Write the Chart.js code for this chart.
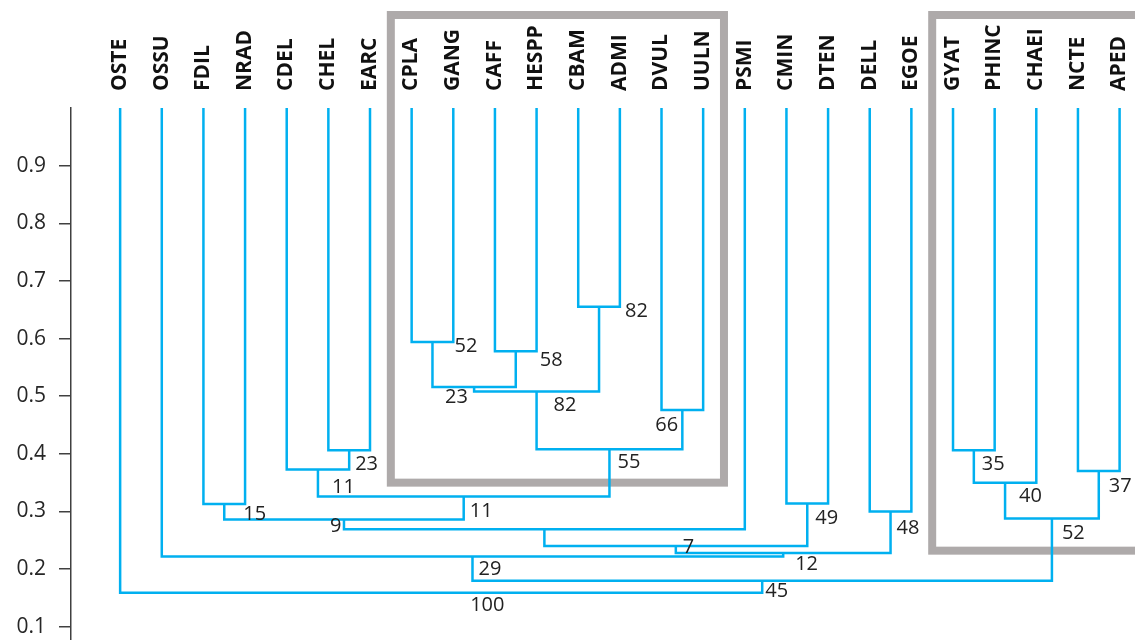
<!DOCTYPE html>
<html>
<head>
<meta charset="utf-8">
<script src="https://cdn.jsdelivr.net/npm/chart.js@4.4.0/dist/chart.umd.min.js"></script>
<style>
  html, body { margin: 0; padding: 0; background: #fff; }
</style>
</head>
<body>
<canvas id="myCanvas" width="1135" height="640"></canvas>
<script>
// leaves, left to right
var leaves = ['OSTE', 'OSSU', 'FDIL', 'NRAD', 'CDEL', 'CHEL', 'EARC', 'CPLA', 'GANG', 'CAFF',
  'HESPP', 'CBAM', 'ADMI', 'DVUL', 'UULN', 'PSMI', 'CMIN', 'DTEN', 'DELL', 'EGOE',
  'GYAT', 'PHINC', 'CHAEI', 'NCTE', 'APED'];

// merge steps, '#n' = result of merge n
var mergeLeft = ['CPLA', 'CAFF', 'CBAM', 'DVUL', '#0', '#4', '#5', 'CHEL', 'CDEL', '#8',
  'FDIL', '#10', '#11', 'CMIN', '#12', 'DELL', '#14', 'OSSU', 'GYAT', '#18',
  'NCTE', '#19', '#17', 'OSTE'];
var mergeRight = ['GANG', 'HESPP', 'ADMI', 'UULN', '#1', '#2', '#3', 'EARC', '#7', '#6',
  'NRAD', '#9', 'PSMI', 'DTEN', '#13', 'EGOE', '#15', '#16', 'PHINC', 'CHAEI',
  'APED', '#20', '#21', '#22'];
var mergeHeight = [0.594, 0.578, 0.655, 0.476, 0.516, 0.508, 0.408, 0.406, 0.373, 0.326,
  0.313, 0.286, 0.269, 0.314, 0.240, 0.300, 0.228, 0.222, 0.406, 0.350,
  0.370, 0.288, 0.180, 0.159];
var support = [52, 58, 82, 66, 23, 82, 55, 23, 11, 11,
  15, 9, null, 49, 7, 48, 12, 29, 35, 40,
  37, 52, 45, 100];
var leafHeight = 1.0;
var yTicks = [0.1, 0.2, 0.3, 0.4, 0.5, 0.6, 0.7, 0.8, 0.9];

// boxed groups
var groupFrom = ['CPLA', 'GYAT'];
var groupTo = ['UULN', 'APED'];
var groupFloor = [0.35, 0.232];

// where each support value sits, px from the stem / bar
var labelOffset = [[22, 4], [24, 9], [26, 4], [-27, 15], [-29, 10], [17, 14], [8, 13], [6, 14], [14, 18], [6, 15],
  [19, 10], [-14, 7], [0, 0], [8, 15], [7, 1], [6, 17], [12, 11], [6, 13], [8, 14], [14, 14],
  [10, 15], [10, 15], [3, 11], [29, 13]];

var lineColor = '#00B0F0';

function nodeOf(ref, nodes) {
  if (ref.charAt(0) === '#') return nodes[parseInt(ref.substring(1))];
  return { x: leaves.indexOf(ref), h: leafHeight };
}

var nodes = [];
var datasets = [];
for (var i = 0; i < mergeHeight.length; i++) {
  var a = nodeOf(mergeLeft[i], nodes);
  var b = nodeOf(mergeRight[i], nodes);
  var h = mergeHeight[i];
  nodes.push({ x: (a.x + b.x) / 2, h: h });
  datasets.push({
    data: [
      { x: a.x, y: a.h }, { x: a.x, y: h },
      { x: b.x, y: h }, { x: b.x, y: b.h }
    ],
    borderColor: lineColor,
    borderWidth: 2.5,
    pointRadius: 0,
    showLine: true,
    fill: false,
    tension: 0,
    clip: false
  });
}

var boxPlugin = {
  id: 'groupBoxes',
  beforeDatasetsDraw: function(chart) {
    var c = chart.ctx;
    var xs = chart.scales.x, ys = chart.scales.y;
    c.save();
    c.strokeStyle = '#AEAAAA';
    c.lineWidth = 8;
    for (var g = 0; g < groupFrom.length; g++) {
      var x1 = xs.getPixelForValue(leaves.indexOf(groupFrom[g]) - 0.5);
      var x2 = xs.getPixelForValue(leaves.indexOf(groupTo[g]) + 0.5);
      var y2 = ys.getPixelForValue(groupFloor[g]);
      c.strokeRect(x1, 15, x2 - x1, y2 - 15);
    }
    c.restore();
  }
};

var supportPlugin = {
  id: 'supportLabels',
  afterDatasetsDraw: function(chart) {
    var c = chart.ctx;
    var xs = chart.scales.x, ys = chart.scales.y;
    c.save();
    c.font = '20px "Open Sans"';
    c.fillStyle = '#222';
    c.textAlign = 'left';
    c.textBaseline = 'middle';
    for (var i = 0; i < nodes.length; i++) {
      if (support[i] === null) continue;
      var px = xs.getPixelForValue(nodes[i].x) + labelOffset[i][0];
      var py = ys.getPixelForValue(nodes[i].h) + labelOffset[i][1];
      c.fillText(String(support[i]), px, py);
    }
    c.restore();
  }
};

Chart.defaults.font.family = '"Open Sans", sans-serif';

var ctx = document.getElementById('myCanvas');
var chart = new Chart(ctx, {
  type: 'scatter',
  data: { datasets: datasets },
  options: {
    responsive: false,
    animation: false,
    layout: { padding: 0 },
    plugins: {
      legend: { display: false },
      tooltip: { enabled: false }
    },
    scales: {
      x: {
        type: 'linear',
        position: 'top',
        min: -1.18,
        max: 24.37,
        afterFit: function(s) {
          s.height = 108;
          s.paddingLeft = 0;
          s.paddingRight = 0;
        },
        afterBuildTicks: function(s) {
          s.ticks = leaves.map(function(l, i) { return { value: i }; });
        },
        grid: { display: false, drawTicks: false },
        border: { display: false },
        ticks: {
          autoSkip: false,
          minRotation: 90,
          maxRotation: 90,
          padding: 17,
          labelOffset: 25,
          color: '#111',
          font: { size: 21, weight: 'bold' },
          callback: function(v) { return leaves[v]; }
        }
      },
      y: {
        type: 'linear',
        min: 0.077,
        max: 1.0,
        afterFit: function(s) {
          s.width = 71;
          s.paddingTop = 0;
          s.paddingBottom = 0;
        },
        afterBuildTicks: function(s) {
          s.ticks = yTicks.map(function(v) { return { value: v }; });
        },
        grid: { drawOnChartArea: false, drawTicks: true, tickLength: 12, color: '#404040', lineWidth: 1.5 },
        border: { display: true, color: '#404040', width: 1.5 },
        ticks: {
          padding: 13,
          color: '#262626',
          font: { size: 21 },
          callback: function(v) { return v.toFixed(1); }
        }
      }
    }
  },
  plugins: [boxPlugin, supportPlugin]
});
</script>
</body>
</html>
